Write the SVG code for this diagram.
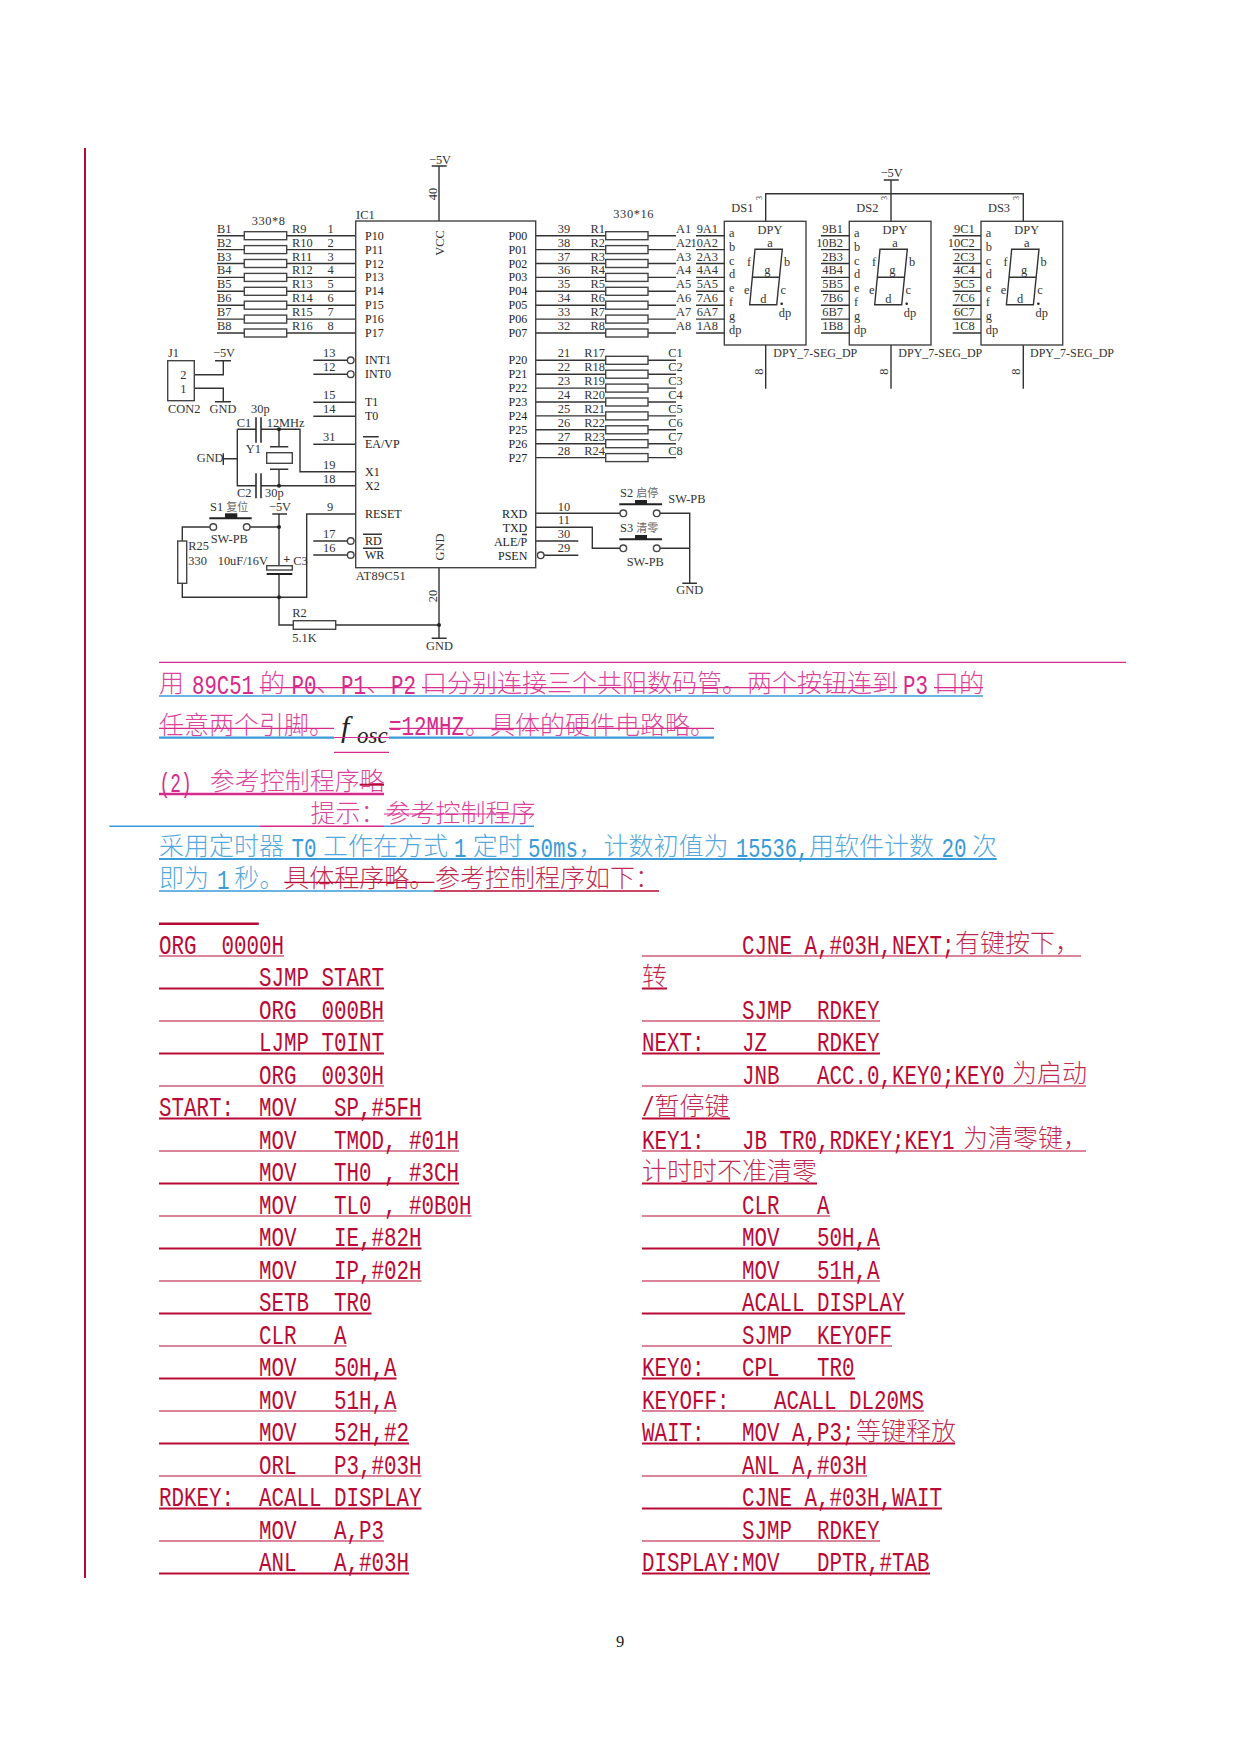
<svg xmlns="http://www.w3.org/2000/svg" width="1241" height="1755" viewBox="0 0 1241 1755">
<style>
.bg{fill:#fff}
.w{fill:none;stroke:#333;stroke-width:1.4}
.b{fill:#fff;stroke:#444;stroke-width:1.4}
.k{fill:none;stroke:#222;stroke-width:2}
.dot{fill:#222}
text{white-space:pre}
.s{font-family:"Liberation Serif","Noto Sans CJK SC",serif;font-size:12.4px;fill:#333}
.p{font-family:"Liberation Serif",serif;font-size:12px;fill:#222}
.mid{text-anchor:middle}
.end{text-anchor:end}
.c{font-family:"Liberation Mono","DejaVu Sans Mono",monospace;font-size:27px}
.z{font-family:"Noto Sans CJK SC",sans-serif;font-size:25px;font-weight:300;fill-opacity:.88}
.red{fill:#B90A36}
.pk{fill:#D62A8C}
.bl{fill:#3A9BD8}
.ur{stroke:#B90A36;fill:none}
.up{stroke:#D62A8C;fill:none}
.ub{stroke:#3A9BD8;fill:none}
.t1{stroke-width:1.2}
.t2{stroke-width:2.2}
</style>
<rect class="bg" x="0" y="0" width="1241" height="1755"/>
<line class="ur" x1="85" y1="148" x2="85" y2="1578" stroke-width="2"/>

<g id="connectors">
<path class="w" d="M217 235.7H355.7M217 249.6H355.7M217 263.5H355.7M217 277.4H355.7M217 291.3H355.7M217 305.2H355.7M217 319.1H355.7M217 333H355.7"/>
<path class="w" d="M535.7 235.7H676M535.7 249.6H676M535.7 263.5H676M535.7 277.4H676M535.7 291.3H676M535.7 305.2H676M535.7 319.1H676M535.7 333H676"/>
<path class="w" d="M535.7 360.3H676M535.7 374.2H676M535.7 388.1H676M535.7 402H676M535.7 415.9H676M535.7 429.8H676M535.7 443.7H676M535.7 457.6H676"/>
<path class="w" d="M313.3 360.3H347.4M313.3 374.2H347.4M313.3 402.3H355.7M313.3 416.3H355.7M313.3 444.3H355.7M313.3 541H347.4M313.3 555H347.4"/>
<path class="w" d="M439 166V221M431.7 166H446.7"/>
<path class="w" d="M439 567.7V638.3M431.7 638.3H446.7"/>
<path class="w" d="M194.3 374.7H223.3V360.7M215 360.7H231M194.3 388.3H223.3V401.7M215 401.7H231"/>
<path class="w" d="M237.3 429.3H256M261 429.3H300V471.7H355.7M237.3 429.3V485.7H256M261 485.7H355.7M223.3 458.7H237.3M223.3 453.3V465M279 429.3V446.7M270 446.7H288.3M270 469.3H288.3M279 469.3V485.7"/>
<path class="w" d="M182.3 541V527H210M250 527H279M279 514V565.7M272.3 514H287M279 574V625H293.3M182.3 583.3V597.3H306.7V514H355.7M335.7 625H439"/>
<path class="w" d="M535.7 513.3H620M660 513.3H689.7V583.3M682.3 583.3H697M535.7 527.3H592.3V548.3H620M660 548.3H689.7M535.7 541H578.3M544 555.3H578.3"/>
<path class="w" d="M765.7 221V193.7H1023.3V221M891 180V221M883.7 180H898.7M765.7 345V388.7M891 345V388.7M1023.3 345V388.7"/>
</g>

<g id="IC1">
<rect class="b" x="355.7" y="221" width="180" height="346.7"/>
<text class="s" x="356" y="219">IC1</text>
<text class="s mid" x="440" y="164">−5V</text>
<text class="s mid" transform="translate(437 194) rotate(-90)">40</text>
<text class="s mid" transform="translate(444 243) rotate(-90)">VCC</text>
<text class="s mid" transform="translate(444 547) rotate(-90)">GND</text>
<text class="s mid" transform="translate(437 596) rotate(-90)">20</text>
<text class="s mid" x="439.5" y="650">GND</text>
<text class="s" x="355.7" y="580" style="letter-spacing:.3px">AT89C51</text>
<circle class="dot" cx="439" cy="625" r="2"/>
<circle class="b" cx="350.7" cy="360.3" r="3.3"/>
<circle class="b" cx="350.7" cy="374.2" r="3.3"/>
<circle class="b" cx="350.7" cy="541" r="3.3"/>
<circle class="b" cx="350.7" cy="555" r="3.3"/>
<circle class="b" cx="540.7" cy="555.3" r="3.3"/>
<path class="w" d="M363 436.7H378.7M363 534.3H382M363 548.3H383M522 534.5H527"/>
<text class="p" x="365" y="239.7">P10</text><text class="p" x="365" y="253.6">P11</text><text class="p" x="365" y="267.5">P12</text><text class="p" x="365" y="281.4">P13</text><text class="p" x="365" y="295.3">P14</text><text class="p" x="365" y="309.2">P15</text><text class="p" x="365" y="323.1">P16</text><text class="p" x="365" y="337">P17</text>
<text class="p" x="365" y="364.3">INT1</text><text class="p" x="365" y="378.2">INT0</text><text class="p" x="365" y="406.3">T1</text><text class="p" x="365" y="420.3">T0</text><text class="p" x="365" y="448.3">EA/VP</text><text class="p" x="365" y="475.7">X1</text><text class="p" x="365" y="490">X2</text><text class="p" x="365" y="518">RESET</text><text class="p" x="365" y="545">RD</text><text class="p" x="365" y="559">WR</text>
<text class="p end" x="527.3" y="239.7">P00</text><text class="p end" x="527.3" y="253.6">P01</text><text class="p end" x="527.3" y="267.5">P02</text><text class="p end" x="527.3" y="281.4">P03</text><text class="p end" x="527.3" y="295.3">P04</text><text class="p end" x="527.3" y="309.2">P05</text><text class="p end" x="527.3" y="323.1">P06</text><text class="p end" x="527.3" y="337">P07</text>
<text class="p end" x="527.3" y="364.3">P20</text><text class="p end" x="527.3" y="378.2">P21</text><text class="p end" x="527.3" y="392.1">P22</text><text class="p end" x="527.3" y="406">P23</text><text class="p end" x="527.3" y="419.9">P24</text><text class="p end" x="527.3" y="433.8">P25</text><text class="p end" x="527.3" y="447.7">P26</text><text class="p end" x="527.3" y="461.6">P27</text>
<text class="p end" x="527.3" y="518">RXD</text><text class="p end" x="527.3" y="532">TXD</text><text class="p end" x="527.3" y="545.5">ALE/P</text><text class="p end" x="527.3" y="559.5">PSEN</text>
<text class="s mid" x="330.7" y="232.7">1</text><text class="s mid" x="330.7" y="246.6">2</text><text class="s mid" x="330.7" y="260.5">3</text><text class="s mid" x="330.7" y="274.4">4</text><text class="s mid" x="330.7" y="288.3">5</text><text class="s mid" x="330.7" y="302.2">6</text><text class="s mid" x="330.7" y="316.1">7</text><text class="s mid" x="330.7" y="330">8</text>
<text class="s mid" x="329.3" y="357.3">13</text><text class="s mid" x="329.3" y="371.2">12</text><text class="s mid" x="329.3" y="399.3">15</text><text class="s mid" x="329.3" y="413.3">14</text><text class="s mid" x="329.3" y="441.3">31</text><text class="s mid" x="329.3" y="468.7">19</text><text class="s mid" x="329.3" y="483">18</text><text class="s mid" x="330" y="511">9</text><text class="s mid" x="329.3" y="538">17</text><text class="s mid" x="329.3" y="552">16</text>
<text class="s mid" x="564" y="232.7">39</text><text class="s mid" x="564" y="246.6">38</text><text class="s mid" x="564" y="260.5">37</text><text class="s mid" x="564" y="274.4">36</text><text class="s mid" x="564" y="288.3">35</text><text class="s mid" x="564" y="302.2">34</text><text class="s mid" x="564" y="316.1">33</text><text class="s mid" x="564" y="330">32</text>
<text class="s mid" x="564" y="357.3">21</text><text class="s mid" x="564" y="371.2">22</text><text class="s mid" x="564" y="385.1">23</text><text class="s mid" x="564" y="399">24</text><text class="s mid" x="564" y="412.9">25</text><text class="s mid" x="564" y="426.8">26</text><text class="s mid" x="564" y="440.7">27</text><text class="s mid" x="564" y="454.6">28</text>
<text class="s mid" x="564" y="510.7">10</text><text class="s mid" x="564" y="524">11</text><text class="s mid" x="564" y="538">30</text><text class="s mid" x="564" y="552">29</text>
</g>

<g id="RP1">
<text class="s" x="251.7" y="225" style="letter-spacing:.6px">330*8</text>
<rect class="b" x="244.3" y="231.7" width="42.4" height="8"/><rect class="b" x="244.3" y="245.6" width="42.4" height="8"/><rect class="b" x="244.3" y="259.5" width="42.4" height="8"/><rect class="b" x="244.3" y="273.4" width="42.4" height="8"/><rect class="b" x="244.3" y="287.3" width="42.4" height="8"/><rect class="b" x="244.3" y="301.2" width="42.4" height="8"/><rect class="b" x="244.3" y="315.1" width="42.4" height="8"/><rect class="b" x="244.3" y="329" width="42.4" height="8"/>
<text class="s" x="217" y="232.7">B1</text><text class="s" x="217" y="246.6">B2</text><text class="s" x="217" y="260.5">B3</text><text class="s" x="217" y="274.4">B4</text><text class="s" x="217" y="288.3">B5</text><text class="s" x="217" y="302.2">B6</text><text class="s" x="217" y="316.1">B7</text><text class="s" x="217" y="330">B8</text>
<text class="s" x="292" y="232.7">R9</text><text class="s" x="292" y="246.6">R10</text><text class="s" x="292" y="260.5">R11</text><text class="s" x="292" y="274.4">R12</text><text class="s" x="292" y="288.3">R13</text><text class="s" x="292" y="302.2">R14</text><text class="s" x="292" y="316.1">R15</text><text class="s" x="292" y="330">R16</text>
</g>

<g id="RP2">
<text class="s" x="613.3" y="218.3" style="letter-spacing:.6px">330*16</text>
<rect class="b" x="605.7" y="231.7" width="42.3" height="8"/><rect class="b" x="605.7" y="245.6" width="42.3" height="8"/><rect class="b" x="605.7" y="259.5" width="42.3" height="8"/><rect class="b" x="605.7" y="273.4" width="42.3" height="8"/><rect class="b" x="605.7" y="287.3" width="42.3" height="8"/><rect class="b" x="605.7" y="301.2" width="42.3" height="8"/><rect class="b" x="605.7" y="315.1" width="42.3" height="8"/><rect class="b" x="605.7" y="329" width="42.3" height="8"/>
<text class="s end" x="605" y="232.7">R1</text><text class="s end" x="605" y="246.6">R2</text><text class="s end" x="605" y="260.5">R3</text><text class="s end" x="605" y="274.4">R4</text><text class="s end" x="605" y="288.3">R5</text><text class="s end" x="605" y="302.2">R6</text><text class="s end" x="605" y="316.1">R7</text><text class="s end" x="605" y="330">R8</text>
<text class="s" x="676" y="232.7">A1</text><text class="s" x="676" y="246.6">A2</text><text class="s" x="676" y="260.5">A3</text><text class="s" x="676" y="274.4">A4</text><text class="s" x="676" y="288.3">A5</text><text class="s" x="676" y="302.2">A6</text><text class="s" x="676" y="316.1">A7</text><text class="s" x="676" y="330">A8</text>
</g>

<g id="RP3">
<rect class="b" x="605.7" y="356.3" width="42.3" height="8"/><rect class="b" x="605.7" y="370.2" width="42.3" height="8"/><rect class="b" x="605.7" y="384.1" width="42.3" height="8"/><rect class="b" x="605.7" y="398" width="42.3" height="8"/><rect class="b" x="605.7" y="411.9" width="42.3" height="8"/><rect class="b" x="605.7" y="425.8" width="42.3" height="8"/><rect class="b" x="605.7" y="439.7" width="42.3" height="8"/><rect class="b" x="605.7" y="453.6" width="42.3" height="8"/>
<text class="s end" x="605" y="357.3">R17</text><text class="s end" x="605" y="371.2">R18</text><text class="s end" x="605" y="385.1">R19</text><text class="s end" x="605" y="399">R20</text><text class="s end" x="605" y="412.9">R21</text><text class="s end" x="605" y="426.8">R22</text><text class="s end" x="605" y="440.7">R23</text><text class="s end" x="605" y="454.6">R24</text>
<text class="s" x="668.3" y="357.3">C1</text><text class="s" x="668.3" y="371.2">C2</text><text class="s" x="668.3" y="385.1">C3</text><text class="s" x="668.3" y="399">C4</text><text class="s" x="668.3" y="412.9">C5</text><text class="s" x="668.3" y="426.8">C6</text><text class="s" x="668.3" y="440.7">C7</text><text class="s" x="668.3" y="454.6">C8</text>
</g>

<g id="DS1">
<rect class="b" x="724.3" y="221.3" width="81.7" height="123.7"/>
<path class="w" d="M696 235.7H724.3M696 249.6H724.3M696 263.5H724.3M696 277.4H724.3M696 291.3H724.3M696 305.2H724.3M696 319.1H724.3M696 333H724.3"/>
<path class="w" d="M755 249.3H782.3L776.7 304.7H749.7ZM752.3 277.3H779.3"/>
<circle class="dot" cx="781.7" cy="303.7" r="1.3"/>
<text class="s mid" x="770" y="234">DPY</text>
<text class="s mid" x="770" y="246.7">a</text><text class="s mid" x="749" y="266">f</text><text class="s mid" x="787" y="266">b</text><text class="s mid" x="767.3" y="274">g</text><text class="s mid" x="746.7" y="294">e</text><text class="s mid" x="783.3" y="294">c</text><text class="s mid" x="763.3" y="302.7">d</text><text class="s mid" x="785" y="316.7">dp</text>
<text class="s" x="729" y="236.7">a</text><text class="s" x="729" y="250.6">b</text><text class="s" x="729" y="264.5">c</text><text class="s" x="729" y="278.4">d</text><text class="s" x="729" y="292.3">e</text><text class="s" x="729" y="306.2">f</text><text class="s" x="729" y="320.1">g</text><text class="s" x="729" y="334">dp</text>
<text class="s end" x="718" y="232.7">9A1</text><text class="s end" x="718" y="246.6">10A2</text><text class="s end" x="718" y="260.5">2A3</text><text class="s end" x="718" y="274.4">4A4</text><text class="s end" x="718" y="288.3">5A5</text><text class="s end" x="718" y="302.2">7A6</text><text class="s end" x="718" y="316.1">6A7</text><text class="s end" x="718" y="330">1A8</text>
<text class="s" x="731.3" y="212.3">DS1</text>
<text class="s" style="font-size:8px" transform="translate(762 200) rotate(-90)">3</text>
<text class="s mid" transform="translate(763 371.7) rotate(-90)">8</text>
<text class="s" x="773.3" y="357.3" textLength="84" lengthAdjust="spacingAndGlyphs">DPY_7-SEG_DP</text>
</g>

<g id="DS2" transform="translate(125 0)">
<rect class="b" x="724.3" y="221.3" width="81.7" height="123.7"/>
<path class="w" d="M696 235.7H724.3M696 249.6H724.3M696 263.5H724.3M696 277.4H724.3M696 291.3H724.3M696 305.2H724.3M696 319.1H724.3M696 333H724.3"/>
<path class="w" d="M755 249.3H782.3L776.7 304.7H749.7ZM752.3 277.3H779.3"/>
<circle class="dot" cx="781.7" cy="303.7" r="1.3"/>
<text class="s mid" x="770" y="234">DPY</text>
<text class="s mid" x="770" y="246.7">a</text><text class="s mid" x="749" y="266">f</text><text class="s mid" x="787" y="266">b</text><text class="s mid" x="767.3" y="274">g</text><text class="s mid" x="746.7" y="294">e</text><text class="s mid" x="783.3" y="294">c</text><text class="s mid" x="763.3" y="302.7">d</text><text class="s mid" x="785" y="316.7">dp</text>
<text class="s" x="729" y="236.7">a</text><text class="s" x="729" y="250.6">b</text><text class="s" x="729" y="264.5">c</text><text class="s" x="729" y="278.4">d</text><text class="s" x="729" y="292.3">e</text><text class="s" x="729" y="306.2">f</text><text class="s" x="729" y="320.1">g</text><text class="s" x="729" y="334">dp</text>
<text class="s end" x="718" y="232.7">9B1</text><text class="s end" x="718" y="246.6">10B2</text><text class="s end" x="718" y="260.5">2B3</text><text class="s end" x="718" y="274.4">4B4</text><text class="s end" x="718" y="288.3">5B5</text><text class="s end" x="718" y="302.2">7B6</text><text class="s end" x="718" y="316.1">6B7</text><text class="s end" x="718" y="330">1B8</text>
<text class="s" x="731.3" y="212.3">DS2</text>
<text class="s" style="font-size:8px" transform="translate(762 200) rotate(-90)">3</text>
<text class="s mid" transform="translate(763 371.7) rotate(-90)">8</text>
<text class="s" x="773.3" y="357.3" textLength="84" lengthAdjust="spacingAndGlyphs">DPY_7-SEG_DP</text>
</g>

<g id="DS3" transform="translate(256.7 0)">
<rect class="b" x="724.3" y="221.3" width="81.7" height="123.7"/>
<path class="w" d="M696 235.7H724.3M696 249.6H724.3M696 263.5H724.3M696 277.4H724.3M696 291.3H724.3M696 305.2H724.3M696 319.1H724.3M696 333H724.3"/>
<path class="w" d="M755 249.3H782.3L776.7 304.7H749.7ZM752.3 277.3H779.3"/>
<circle class="dot" cx="781.7" cy="303.7" r="1.3"/>
<text class="s mid" x="770" y="234">DPY</text>
<text class="s mid" x="770" y="246.7">a</text><text class="s mid" x="749" y="266">f</text><text class="s mid" x="787" y="266">b</text><text class="s mid" x="767.3" y="274">g</text><text class="s mid" x="746.7" y="294">e</text><text class="s mid" x="783.3" y="294">c</text><text class="s mid" x="763.3" y="302.7">d</text><text class="s mid" x="785" y="316.7">dp</text>
<text class="s" x="729" y="236.7">a</text><text class="s" x="729" y="250.6">b</text><text class="s" x="729" y="264.5">c</text><text class="s" x="729" y="278.4">d</text><text class="s" x="729" y="292.3">e</text><text class="s" x="729" y="306.2">f</text><text class="s" x="729" y="320.1">g</text><text class="s" x="729" y="334">dp</text>
<text class="s end" x="718" y="232.7">9C1</text><text class="s end" x="718" y="246.6">10C2</text><text class="s end" x="718" y="260.5">2C3</text><text class="s end" x="718" y="274.4">4C4</text><text class="s end" x="718" y="288.3">5C5</text><text class="s end" x="718" y="302.2">7C6</text><text class="s end" x="718" y="316.1">6C7</text><text class="s end" x="718" y="330">1C8</text>
<text class="s" x="731.3" y="212.3">DS3</text>
<text class="s" style="font-size:8px" transform="translate(762 200) rotate(-90)">3</text>
<text class="s mid" transform="translate(763 371.7) rotate(-90)">8</text>
<text class="s" x="773.3" y="357.3" textLength="84" lengthAdjust="spacingAndGlyphs">DPY_7-SEG_DP</text>
</g>
<text class="s mid" x="891.7" y="176.7">−5V</text>

<g id="J1">
<rect class="b" x="167.7" y="360.7" width="26.6" height="40"/>
<text class="s" x="168" y="357.3">J1</text>
<text class="s mid" x="183.3" y="379">2</text>
<text class="s mid" x="183.3" y="392.7">1</text>
<text class="s" x="168" y="413.3">CON2</text>
<text class="s mid" x="224" y="356.7">−5V</text>
<text class="s mid" x="223" y="413.3">GND</text>
</g>

<g id="Y1">
<path class="k" d="M256 417.3V442.7M261 417.3V442.7M256 473.3V498.3M261 473.3V498.3" style="stroke-width:1.5"/>
<rect class="b" x="266.7" y="452.7" width="25.6" height="10.6"/>
<circle class="dot" cx="279" cy="429.3" r="2"/>
<circle class="dot" cx="279" cy="485.7" r="2"/>
<text class="s" x="236.7" y="427.3">C1</text>
<text class="s" x="251" y="413.3">30p</text>
<text class="s" x="266.7" y="427.3">12MHz</text>
<text class="s" x="245.7" y="453.3">Y1</text>
<text class="s" x="196.7" y="462.3">GND</text>
<text class="s" x="237" y="496.7">C2</text>
<text class="s" x="265" y="496.7">30p</text>
</g>

<g id="S1">
<path class="k" d="M209.3 518.3H251.7"/>
<rect class="dot" x="225" y="513.3" width="12.3" height="5"/>
<circle class="b" cx="213.3" cy="527" r="3.3"/>
<circle class="b" cx="246.7" cy="527" r="3.3"/>
<text class="s" x="210" y="510.7">S1 <tspan style="font-size:11px;fill:#666">复位</tspan></text>
<text class="s" x="210.7" y="542.7">SW-PB</text>
</g>

<g id="R25">
<rect class="b" x="177.7" y="541" width="9" height="42.3"/>
<text class="s" x="188.3" y="550">R25</text>
<text class="s" x="188.3" y="565">330</text>
</g>

<g id="C3">
<rect class="b" x="266.7" y="565.7" width="25.6" height="4.3"/>
<path class="k" d="M266.7 574H292.3"/>
<circle class="dot" cx="279" cy="527" r="2"/>
<circle class="dot" cx="279" cy="597.3" r="2"/>
<text class="s mid" x="280" y="510.7">−5V</text>
<text class="s" x="217.7" y="565">10uF/16V</text>
<text class="s mid" x="286.7" y="563" style="font-weight:700">+</text>
<text class="s" x="293.3" y="565">C3</text>
</g>

<g id="R2">
<rect class="b" x="293.3" y="620.7" width="42.4" height="8.6"/>
<text class="s" x="292.3" y="616.7">R2</text>
<text class="s" x="292.3" y="641.7">5.1K</text>
</g>

<g id="S2">
<path class="k" d="M619.3 504.3H662"/>
<rect class="dot" x="635" y="500" width="12" height="4.3"/>
<circle class="b" cx="623.3" cy="513.3" r="3.3"/>
<circle class="b" cx="656.7" cy="513.3" r="3.3"/>
<text class="s" x="620" y="496.7">S2 <tspan style="font-size:11px;fill:#666">启停</tspan></text>
<text class="s" x="668.3" y="503.3">SW-PB</text>
</g>
<g id="S3">
<path class="k" d="M619.3 539.3H662"/>
<rect class="dot" x="635" y="535" width="12" height="4.3"/>
<circle class="b" cx="623.3" cy="548.3" r="3.3"/>
<circle class="b" cx="656.7" cy="548.3" r="3.3"/>
<text class="s" x="620" y="531.7">S3 <tspan style="font-size:11px;fill:#666">清零</tspan></text>
<text class="s" x="626.7" y="566">SW-PB</text>
<text class="s mid" x="689.7" y="594">GND</text>
</g>

<g id="para">
<line class="up t1" x1="159" y1="662.3" x2="1126" y2="662.3"/>
<text class="z pk" x="159" y="692">用</text>
<text class="c pk" x="192" y="693.7" textLength="62" lengthAdjust="spacingAndGlyphs">89C51</text>
<text class="z pk" x="260" y="692">的</text>
<text class="c pk" x="291.4" y="693.7" textLength="25" lengthAdjust="spacingAndGlyphs">P0</text>
<text class="z pk" x="316" y="692">、</text>
<text class="c pk" x="341" y="693.7" textLength="25" lengthAdjust="spacingAndGlyphs">P1</text>
<text class="z pk" x="366" y="692">、</text>
<text class="c pk" x="391" y="693.7" textLength="25" lengthAdjust="spacingAndGlyphs">P2</text>
<text class="z pk" x="422" y="692">口分别连接三个共阳数码管。两个按钮连到</text>
<text class="c pk" x="903" y="693.7" textLength="25" lengthAdjust="spacingAndGlyphs">P3</text>
<text class="z pk" x="934" y="692">口的</text>
<line class="up t1" x1="259.6" y1="687.7" x2="414.7" y2="687.7"/>
<line class="up t1" x1="422" y1="687.7" x2="897" y2="687.7"/>
<line class="up t1" x1="934" y1="687.7" x2="983" y2="687.7"/>
<line class="ub" stroke-width="1.4" x1="159" y1="696" x2="983" y2="696"/>

<text class="z pk" x="159" y="733.7">任意两个引脚。</text>
<line class="up t1" x1="159" y1="728.3" x2="334" y2="728.3"/>
<line class="ub t2" x1="159" y1="737.7" x2="334" y2="737.7"/>
<text x="341" y="737" style="font-family:'Liberation Serif',serif;font-style:italic;font-size:30px;fill:#222">f</text>
<text x="357" y="743" style="font-family:'Liberation Serif',serif;font-style:italic;font-size:23px;fill:#222">osc</text>
<line class="up t1" x1="334" y1="737.5" x2="389" y2="737.5"/>
<line class="up t1" x1="334" y1="752.3" x2="389" y2="752.3"/>
<text class="c pk" x="389" y="735.4" textLength="75" lengthAdjust="spacingAndGlyphs">=12MHZ</text>
<text class="z pk" x="465" y="733.7">。具体的硬件电路略。</text>
<line class="up t1" x1="389" y1="728.3" x2="714" y2="728.3"/>
<line class="ub t2" x1="389" y1="737.7" x2="714" y2="737.7"/>

<text class="c pk" x="159.6" y="791.7" textLength="32" lengthAdjust="spacingAndGlyphs">(2)</text>
<text class="z pk" x="209.8" y="790">参考控制程序略</text>
<line class="up" stroke-width="2.4" x1="159" y1="794" x2="384" y2="794"/>
<line class="ur" stroke-width="2" x1="359.6" y1="784.7" x2="384" y2="784.7"/>

<text class="z pk" x="310.6" y="822.3">提示：参考控制程序</text>
<line class="up t1" x1="384" y1="814" x2="534" y2="814"/>
<line class="ub" stroke-width="1.4" x1="109.4" y1="826.3" x2="259.6" y2="826.3"/>
<line class="up" stroke-width="1.4" x1="259.6" y1="826.3" x2="384" y2="826.3"/>
<line class="ub" stroke-width="1.4" x1="384" y1="826.3" x2="534" y2="826.3"/>

<text class="z bl" x="159" y="855">采用定时器</text>
<text class="c bl" x="291.4" y="856.7" textLength="25" lengthAdjust="spacingAndGlyphs">T0</text>
<text class="z bl" x="323" y="855">工作在方式</text>
<text class="c bl" x="454" y="856.7" textLength="12.5" lengthAdjust="spacingAndGlyphs">1</text>
<text class="z bl" x="472.7" y="855">定时</text>
<text class="c bl" x="528" y="856.7" textLength="50" lengthAdjust="spacingAndGlyphs">50ms</text>
<text class="z bl" x="578.5" y="855">，计数初值为</text>
<text class="c bl" x="736" y="856.7" textLength="73" lengthAdjust="spacingAndGlyphs">15536,</text>
<text class="z bl" x="809" y="855">用软件计数</text>
<text class="c bl" x="941.5" y="856.7" textLength="25" lengthAdjust="spacingAndGlyphs">20</text>
<text class="z bl" x="972" y="855">次</text>
<line class="ub t2" x1="159" y1="859" x2="996.7" y2="859"/>

<text class="z bl" x="159" y="887">即为</text>
<text class="c bl" x="217" y="888.7" textLength="12.5" lengthAdjust="spacingAndGlyphs">1</text>
<text class="z bl" x="234.3" y="887">秒。</text>
<text class="z red" x="284.3" y="887">具体程序略。</text>
<line class="ur t1" x1="284.3" y1="882.3" x2="434.3" y2="882.3"/>
<text class="z red" x="435" y="887">参考控制程序如下：</text>
<line class="ub" stroke-width="1.4" x1="159" y1="891" x2="434" y2="891"/>
<line class="ur" stroke-width="1.4" x1="434" y1="891" x2="659" y2="891"/>
<line class="ur" stroke-width="2.4" x1="159" y1="923.7" x2="258.8" y2="923.7"/>
</g>

<g id="code-left">
<text class="c red" x="159" y="953.7" textLength="125" lengthAdjust="spacingAndGlyphs">ORG  0000H</text>
<text class="c red" x="259" y="986.2" textLength="125" lengthAdjust="spacingAndGlyphs">SJMP START</text>
<text class="c red" x="259" y="1018.7" textLength="125" lengthAdjust="spacingAndGlyphs">ORG  000BH</text>
<text class="c red" x="259" y="1051.2" textLength="125" lengthAdjust="spacingAndGlyphs">LJMP T0INT</text>
<text class="c red" x="259" y="1083.7" textLength="125" lengthAdjust="spacingAndGlyphs">ORG  0030H</text>
<text class="c red" x="159" y="1116.2" textLength="262.5" lengthAdjust="spacingAndGlyphs">START:  MOV   SP,#5FH</text>
<text class="c red" x="259" y="1148.7" textLength="200" lengthAdjust="spacingAndGlyphs">MOV   TMOD, #01H</text>
<text class="c red" x="259" y="1181.2" textLength="200" lengthAdjust="spacingAndGlyphs">MOV   TH0 , #3CH</text>
<text class="c red" x="259" y="1213.7" textLength="212.5" lengthAdjust="spacingAndGlyphs">MOV   TL0 , #0B0H</text>
<text class="c red" x="259" y="1246.2" textLength="162.5" lengthAdjust="spacingAndGlyphs">MOV   IE,#82H</text>
<text class="c red" x="259" y="1278.7" textLength="162.5" lengthAdjust="spacingAndGlyphs">MOV   IP,#02H</text>
<text class="c red" x="259" y="1311.2" textLength="112.5" lengthAdjust="spacingAndGlyphs">SETB  TR0</text>
<text class="c red" x="259" y="1343.7" textLength="87.5" lengthAdjust="spacingAndGlyphs">CLR   A</text>
<text class="c red" x="259" y="1376.2" textLength="137.5" lengthAdjust="spacingAndGlyphs">MOV   50H,A</text>
<text class="c red" x="259" y="1408.7" textLength="137.5" lengthAdjust="spacingAndGlyphs">MOV   51H,A</text>
<text class="c red" x="259" y="1441.2" textLength="150" lengthAdjust="spacingAndGlyphs">MOV   52H,#2</text>
<text class="c red" x="259" y="1473.7" textLength="162.5" lengthAdjust="spacingAndGlyphs">ORL   P3,#03H</text>
<text class="c red" x="159" y="1506.2" textLength="262.5" lengthAdjust="spacingAndGlyphs">RDKEY:  ACALL DISPLAY</text>
<text class="c red" x="259" y="1538.7" textLength="125" lengthAdjust="spacingAndGlyphs">MOV   A,P3</text>
<text class="c red" x="259" y="1571.2" textLength="150" lengthAdjust="spacingAndGlyphs">ANL   A,#03H</text>
<path class="ur t1" d="M159 956H284M159 1021H384M159 1086H384M159 1151H459M159 1216H471.5M159 1281H421.5M159 1346H346.5M159 1411H396.5M159 1476H421.5M159 1541H384"/>
<path class="ur t2" d="M159 988.5H384M159 1053.5H384M159 1118.5H421.5M159 1183.5H459M159 1248.5H421.5M159 1313.5H371.5M159 1378.5H396.5M159 1443.5H409M159 1508.5H421.5M159 1573.5H409"/>
</g>

<g id="code-right">
<text class="c red" x="742" y="953.7" textLength="212.5" lengthAdjust="spacingAndGlyphs">CJNE A,#03H,NEXT;</text>
<text class="z red" x="955" y="952">有键按下，</text>
<text class="z red" x="642" y="984.5">转</text>
<text class="c red" x="742" y="1018.7" textLength="137.5" lengthAdjust="spacingAndGlyphs">SJMP  RDKEY</text>
<text class="c red" x="642" y="1051.2" textLength="237.5" lengthAdjust="spacingAndGlyphs">NEXT:   JZ    RDKEY</text>
<text class="c red" x="742" y="1083.7" textLength="262.5" lengthAdjust="spacingAndGlyphs">JNB   ACC.0,KEY0;KEY0</text>
<text class="z red" x="1012" y="1082">为启动</text>
<text class="c red" x="642" y="1116.2" textLength="12.5" lengthAdjust="spacingAndGlyphs">/</text>
<text class="z red" x="654.5" y="1114.5">暂停键</text>
<text class="c red" x="642" y="1148.7" textLength="312.5" lengthAdjust="spacingAndGlyphs">KEY1:   JB TR0,RDKEY;KEY1</text>
<text class="z red" x="963" y="1147">为清零键，</text>
<text class="z red" x="642" y="1179.5">计时时不准清零</text>
<text class="c red" x="742" y="1213.7" textLength="87.5" lengthAdjust="spacingAndGlyphs">CLR   A</text>
<text class="c red" x="742" y="1246.2" textLength="137.5" lengthAdjust="spacingAndGlyphs">MOV   50H,A</text>
<text class="c red" x="742" y="1278.7" textLength="137.5" lengthAdjust="spacingAndGlyphs">MOV   51H,A</text>
<text class="c red" x="742" y="1311.2" textLength="162.5" lengthAdjust="spacingAndGlyphs">ACALL DISPLAY</text>
<text class="c red" x="742" y="1343.7" textLength="150" lengthAdjust="spacingAndGlyphs">SJMP  KEYOFF</text>
<text class="c red" x="642" y="1376.2" textLength="212.5" lengthAdjust="spacingAndGlyphs">KEY0:   CPL   TR0</text>
<text class="c red" x="642" y="1408.7" textLength="87.5" lengthAdjust="spacingAndGlyphs">KEYOFF:</text>
<text class="c red" x="774" y="1408.7" textLength="150" lengthAdjust="spacingAndGlyphs">ACALL DL20MS</text>
<text class="c red" x="642" y="1441.2" textLength="212.5" lengthAdjust="spacingAndGlyphs">WAIT:   MOV A,P3;</text>
<text class="z red" x="856" y="1439.5">等键释放</text>
<text class="c red" x="742" y="1473.7" textLength="125" lengthAdjust="spacingAndGlyphs">ANL A,#03H</text>
<text class="c red" x="742" y="1506.2" textLength="200" lengthAdjust="spacingAndGlyphs">CJNE A,#03H,WAIT</text>
<text class="c red" x="742" y="1538.7" textLength="137.5" lengthAdjust="spacingAndGlyphs">SJMP  RDKEY</text>
<text class="c red" x="642" y="1571.2" textLength="287.5" lengthAdjust="spacingAndGlyphs">DISPLAY:MOV   DPTR,#TAB</text>
<path class="ur t1" d="M642 956H1081M642 1021H880M642 1086H1086M642 1151H1086M642 1216H830M642 1281H880M642 1346H892M642 1411H924M642 1476H867M642 1541H880"/>
<path class="ur t2" d="M642 988.5H667M642 1053.5H880M642 1118.5H730M642 1183.5H817M642 1248.5H880M642 1313.5H905M642 1378.5H855M642 1443.5H955M642 1508.5H942M642 1573.5H930"/>
</g>

<text x="620" y="1647" style="font-family:'Liberation Serif',serif;font-size:16.5px;fill:#222;text-anchor:middle">9</text>
</svg>
